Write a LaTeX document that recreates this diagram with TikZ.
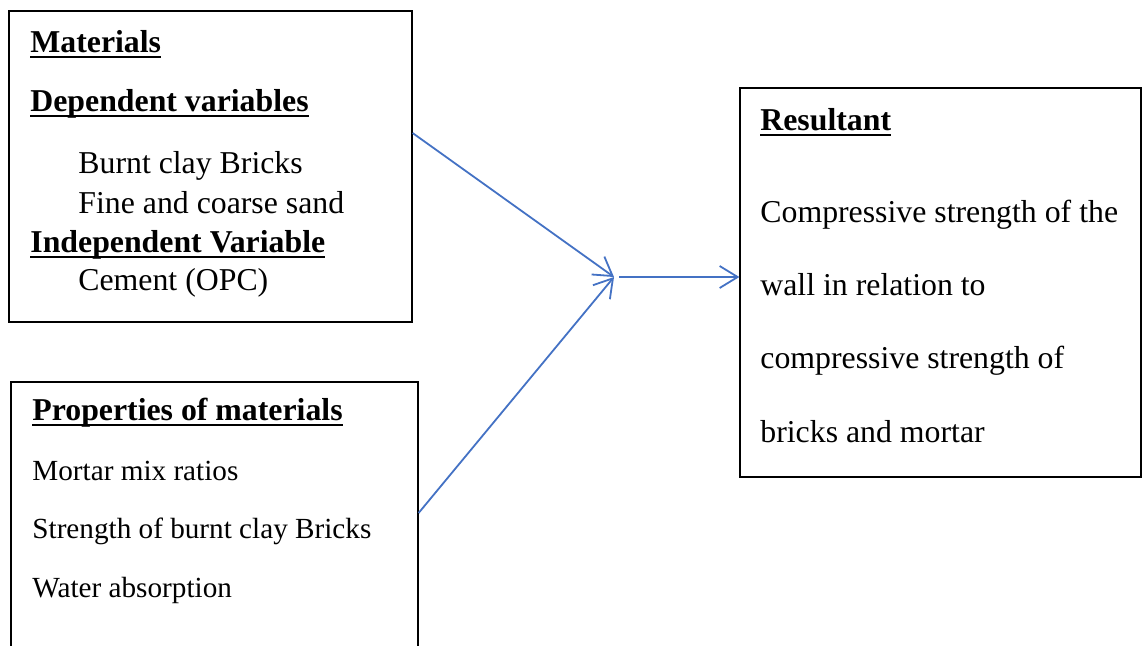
\documentclass[tikz,border=0pt]{standalone}
\usepackage{fontspec}
\setmainfont{Liberation Serif}
\usepackage{xcolor}
\usetikzlibrary{arrows.meta}

\definecolor{flowblue}{RGB}{68,114,196}
\newcommand{\ulhead}[1]{\setbox0\hbox{\bfseries #1}\rlap{\rule[-2.8pt]{\wd0}{1pt}}\box0}

\begin{document}
\begin{tikzpicture}[x=0.5pt, y=-0.5pt]
		% Define the styles
		\tikzstyle{box}=[rectangle, draw=black, line width=0.6pt]
		\tikzstyle{txt}=[anchor=base west, inner sep=0pt, font=\fontsize{15.9}{19}\selectfont]
		\tikzstyle{smalltxt}=[txt, font=\fontsize{14.6}{17}\selectfont]
		\tikzstyle{flow}=[draw=flowblue, line width=0.9pt, -{Straight Barb[length=9pt, width=11pt]}]

		\useasboundingbox (0,0) rectangle (1142,645);
		\clip (0,0) rectangle (1142,645);

		% Define boxes
		\node (mat) [box, minimum width=201.5pt, minimum height=155.5pt] at (210.5,166.5) {};
		\node (prop) [box, minimum width=203.5pt, minimum height=145pt] at (214.5,527) {};
		\node (res) [box, minimum width=200.5pt, minimum height=194.5pt] at (940.5,282.5) {};

		% Materials
		\node (mathead) [txt] at (30,52) {\ulhead{Materials}};
		\node (dephead) [txt] at (30,111) {\ulhead{Dependent variables}};
		\node (bricks) [txt] at (78,173) {Burnt clay Bricks};
		\node (sand) [txt] at (78,213) {Fine and coarse sand};
		\node (indhead) [txt] at (30,252) {\ulhead{Independent Variable}};
		\node (cement) [txt] at (78,290) {Cement (OPC)};

		% Properties
		\node (prophead) [txt] at (32,420) {\ulhead{Properties of materials}};
		\node (mix) [smalltxt] at (32,480) {Mortar mix ratios};
		\node (strength) [smalltxt] at (32,538) {Strength of burnt clay Bricks};
		\node (water) [smalltxt] at (32,597) {Water absorption};

		% Resultant
		\node (reshead) [txt] at (760,130) {\ulhead{Resultant}};
		\node (res1) [txt] at (760,222) {Compressive strength of the};
		\node (res2) [txt] at (760,295) {wall in relation to};
		\node (res3) [txt] at (760,368) {compressive strength of};
		\node (res4) [txt] at (760,442) {bricks and mortar};

		% Define edges
		\coordinate (join) at (614,277);
		\draw[flow] ([yshift=16.75pt]mat.east) -- (join);
		\draw[flow] ([yshift=7pt]prop.east) -- (join);
		\draw[flow] ([xshift=2.5pt]join) -- (res.west |- join);
	\end{tikzpicture}
\end{document}
